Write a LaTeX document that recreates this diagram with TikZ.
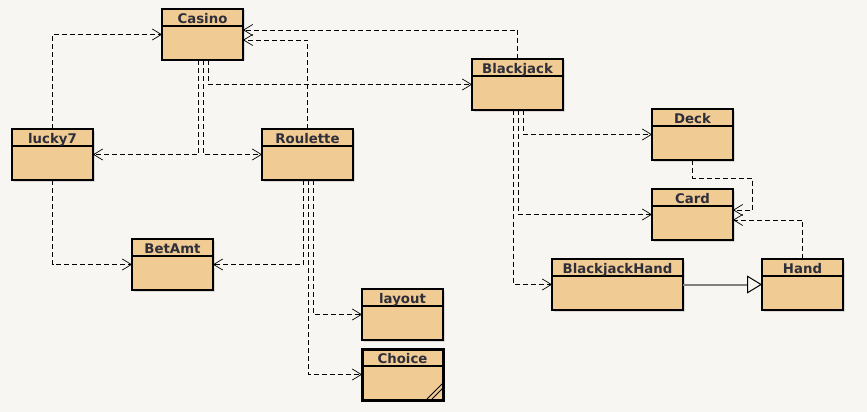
\documentclass[tikz,border=0pt]{standalone}
\usepackage{fontspec}
\setmainfont{DejaVu Sans}
\usetikzlibrary{arrows.meta,shadows}
\definecolor{bg}{HTML}{F7F6F2}
\definecolor{cls}{HTML}{F0CC94}
\definecolor{txt}{HTML}{2E2E3A}
\tikzset{
  classbox/.style={draw=black, fill=cls, line width=1.4pt, minimum height=51pt,
    inner sep=0pt, outer sep=0pt, anchor=north west,
    drop shadow={shadow xshift=1.5pt, shadow yshift=-1.5pt, opacity=0.25}},
  headline/.style={draw=black, line width=1.1pt},
  classtitle/.style={font=\bfseries\fontsize{13.3}{13.3}\selectfont, text=txt, inner sep=0pt, anchor=base},
  dep/.style={draw=black, line width=0.9pt, dash pattern=on 5pt off 3pt,
    -{Straight Barb[length=9pt,width=11pt,line width=0.7pt]}},
  gen/.style={draw=gray, line width=2pt,
    -{Triangle[open,length=15pt,width=18pt,line width=1pt,color=black,fill=bg]}},
}
\newcommand\umlclass[6][]{%
  \node[classbox,minimum width=#5pt,#1] (#2) at (#3,#4) {};
  \draw[headline] ([yshift=-17pt]#2.north west) -- ([yshift=-17pt]#2.north east);
  \node[classtitle] at ([yshift=-14.2pt]#2.north) {#6};
}
\begin{document}
\begin{tikzpicture}[x=1pt,y=-1pt]
\useasboundingbox[fill=bg] (0,0) rectangle (867,412);

\umlclass{casino}{162}{9}{81}{Casino}
\umlclass{lucky7}{12}{129}{81}{lucky7}
\umlclass{roulette}{262}{129}{91}{Roulette}
\umlclass{blackjack}{472}{59}{91}{Blackjack}
\umlclass{deck}{652}{109}{81}{Deck}
\umlclass{card}{652}{189}{81}{Card}
\umlclass{betamt}{132}{239}{81}{BetAmt}
\umlclass{bjhand}{552}{259}{131}{BlackjackHand}
\umlclass{hand}{762}{259}{81}{Hand}
\umlclass{layout}{362}{289}{81}{layout}
\umlclass[line width=3pt]{choice}{362}{349}{81}{Choice}
\draw[line width=0.9pt] (427,399) -- (443,383);
\draw[line width=0.9pt] (432,399) -- (443,388);

% connectors to Casino
\draw[dep] (lucky7.north) |- (casino.west);
\draw[dep] (roulette.north) |- ([yshift=-5.5pt]casino.east);
\draw[dep] (blackjack.north) |- ([yshift=4.5pt]casino.east);
% from Casino
\draw[dep] ([xshift=-4.5pt]casino.south) |- (lucky7.east);
\draw[dep] ([xshift=0.5pt]casino.south) |- (roulette.west);
\draw[dep] ([xshift=5.5pt]casino.south) |- (blackjack.west);
% lucky7 / Roulette
\draw[dep] (lucky7.south) |- (betamt.west);
\draw[dep] ([xshift=-4.5pt]roulette.south) |- (betamt.east);
\draw[dep] ([xshift=5.5pt]roulette.south) |- (layout.west);
\draw[dep] ([xshift=0.5pt]roulette.south) |- (choice.west);
% Blackjack
\draw[dep] ([xshift=5.5pt]blackjack.south) |- (deck.west);
\draw[dep] ([xshift=0.5pt]blackjack.south) |- (card.west);
\draw[dep] ([xshift=-4.5pt]blackjack.south) |- (bjhand.west);
\draw[dep] (deck.south) -- ++(0,18) -| ([xshift=19pt,yshift=4.5pt]card.east) -- ([yshift=4.5pt]card.east);
\draw[dep] (hand.north) |- ([yshift=-5.5pt]card.east);
\draw[gen] (bjhand.east) -- (hand.west);
\end{tikzpicture}
\end{document}
